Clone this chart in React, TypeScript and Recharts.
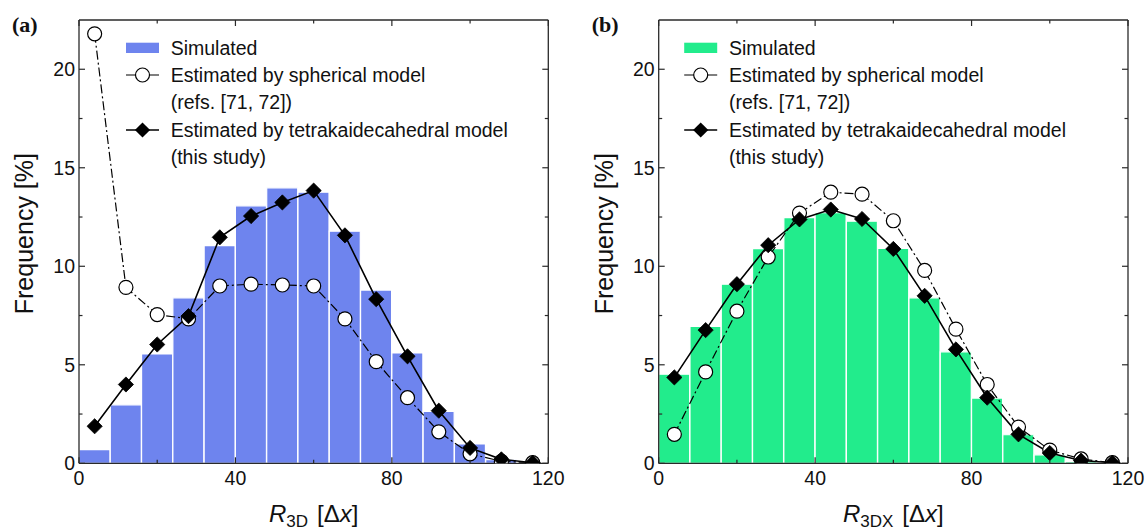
import React from 'react';
import { ComposedChart, Bar, Line, XAxis, YAxis } from 'recharts';

// ---------- data ----------
const binIds = ['0-8', '8-16', '16-24', '24-32', '32-40', '40-48', '48-56', '56-64', '64-72', '72-80', '80-88', '88-96', '96-104', '104-112', '112-120'];
const binCenters = [4, 12, 20, 28, 36, 44, 52, 60, 68, 76, 84, 92, 100, 108, 116];

const simulatedA = [0.69, 2.97, 5.55, 8.4, 11.05, 13.07, 13.98, 13.76, 11.78, 8.79, 5.6, 2.64, 0.98, 0.18, 0.05];
const sphericalA = [21.8, 8.93, 7.55, 7.33, 9.0, 9.09, 9.05, 9.0, 7.33, 5.16, 3.33, 1.6, 0.48, 0.1, 0.03];
const tetraA = [1.88, 4.0, 6.03, 7.47, 11.47, 12.55, 13.24, 13.84, 11.57, 8.33, 5.43, 2.67, 0.78, 0.2, 0.03];

const simulatedB = [4.52, 6.95, 9.09, 10.9, 12.47, 12.72, 12.29, 10.91, 8.4, 5.66, 3.31, 1.45, 0.43, 0.09, 0.02];
const sphericalB = [1.47, 4.64, 7.72, 10.47, 12.7, 13.76, 13.66, 12.31, 9.79, 6.81, 4.0, 1.84, 0.67, 0.22, 0.03];
const tetraB = [4.36, 6.76, 9.09, 11.07, 12.38, 12.88, 12.4, 10.88, 8.5, 5.78, 3.33, 1.47, 0.52, 0.14, 0.03];

const xTicks = [0, 20, 40, 60, 80, 100, 120];
const xLabeledTicks = [0, 40, 80, 120];
const yTicks = [0, 2.5, 5, 7.5, 10, 12.5, 15, 17.5, 20];
const yLabeledTicks = [0, 5, 10, 15, 20];

const legendLabels = ['Simulated', 'Estimated by spherical model', '(refs. [71, 72])', 'Estimated by tetrakaidecahedral model', '(this study)'];

// ---------- styles ----------
const SANS = '"Liberation Sans", Arial, Helvetica, sans-serif';
const SERIF = '"Liberation Serif", "Times New Roman", serif';
const FRAME = '#2a2a2a';
const TEXT = '#111';

const buildRows = (sim: number[], sph: number[], tet: number[]) =>
  binIds.map((bin, i) => ({ bin, x: binCenters[i], sim: sim[i], sph: sph[i], tet: tet[i] }));

const diamondDot = (props: any) => {
  const { cx, cy, index } = props;
  if (cx == null || cy == null) return <g key={`d-${index}`} />;
  const s = 7.6;
  return (
    <polygon
      key={`d-${index}`}
      points={`${cx},${cy - s} ${cx + s},${cy} ${cx},${cy + s} ${cx - s},${cy}`}
      fill="#000"
      stroke="#000"
      strokeWidth={0.8}
    />
  );
};

const circleDot = (props: any) => {
  const { cx, cy, index } = props;
  if (cx == null || cy == null) return <g key={`c-${index}`} />;
  return <circle key={`c-${index}`} cx={cx} cy={cy} r={7} fill="#fff" stroke="#000" strokeWidth={1.2} />;
};

const renderXTick = (props: any, side: 'bottom' | 'top') => {
  const { x, y, payload } = props;
  const v = payload.value;
  const major = xLabeledTicks.includes(v);
  const len = major ? 6 : 3.5;
  const dir = side === 'bottom' ? -1 : 1;
  return (
    <g>
      <line x1={x} y1={y} x2={x} y2={y + dir * len} stroke={FRAME} strokeWidth={1.2} />
      {side === 'bottom' && major && (
        <text x={x} y={y + 22} textAnchor="middle" fontSize={19.5} fontFamily={SANS} fill={TEXT}>
          {v}
        </text>
      )}
    </g>
  );
};

const renderYTick = (props: any, side: 'left' | 'right') => {
  const { x, y, payload } = props;
  const v = payload.value;
  const major = yLabeledTicks.includes(v);
  const len = major ? 6 : 3.5;
  const dir = side === 'left' ? 1 : -1;
  return (
    <g>
      <line x1={x} y1={y} x2={x + dir * len} y2={y} stroke={FRAME} strokeWidth={1.2} />
      {side === 'left' && major && (
        <text x={x - 4} y={y + 7} textAnchor="end" fontSize={19.5} fontFamily={SANS} fill={TEXT}>
          {v}
        </text>
      )}
    </g>
  );
};

type PanelProps = {
  left: number;
  width: number;
  plotLeft: number; // absolute page px
  plotRight: number; // absolute page px
  rows: any[];
  color: string;
  letter: string;
  sub: string;
  legendDx: number;
};

const PLOT_TOP = 20;
const PLOT_BOTTOM = 463.3;
const H = 532;

function Panel({ left, width, plotLeft, plotRight, rows, color, letter, sub, legendDx }: PanelProps) {
  const yAxisW = plotLeft - left;
  const marginRight = width - (plotRight - left) - 1;

  const yLabel = (p: any) => {
    const vb = p.viewBox || {};
    const ax = (vb.x || 0) + (vb.width || 0); // plot left in chart coords
    const cy = PLOT_TOP + (PLOT_BOTTOM - PLOT_TOP) / 2 - 8;
    const bx = ax - 45.7;
    return (
      <g>
        <text
          x={bx}
          y={cy}
          transform={`rotate(-90, ${bx}, ${cy})`}
          textAnchor="middle"
          fontSize={25}
          fontFamily={SANS}
          fill={TEXT}
        >
          Frequency [%]
        </text>
        <text x={ax - 67} y={32} fontSize={22} fontWeight="bold" fontFamily={SERIF} fill={TEXT}>
          {letter}
        </text>
      </g>
    );
  };

  const xLabel = (p: any) => {
    const vb = p.viewBox || {};
    const cx = (vb.x || 0) + (vb.width || 0) / 2;
    return (
      <text x={cx} y={522} textAnchor="middle" fontSize={24} fontFamily={SANS} fill={TEXT}>
        <tspan fontStyle="italic">R</tspan>
        <tspan fontSize={17} dy={5}>{sub}</tspan>
        <tspan dy={-5} dx={9}>[Δ</tspan>
        <tspan fontStyle="italic">x</tspan>
        <tspan>]</tspan>
      </text>
    );
  };

  const legend = (p: any) => {
    const vb = p.viewBox || {};
    const ox = (vb.x || 0) + legendDx;
    const oy = PLOT_TOP;
    const swL = ox;
    const swR = ox + 33;
    const mid = ox + 16.5;
    const tx = ox + 44.7;
    const lr = [27.7, 55, 81.7, 110, 136.7];
    return (
      <g fontFamily={SANS} fontSize={19.5} fill={TEXT}>
        <rect x={swL} y={oy + 22.7} width={33} height={10.3} fill={color} />
        <line x1={swL} y1={oy + lr[1]} x2={swR} y2={oy + lr[1]} stroke="#000" strokeWidth={1.2} />
        <circle cx={mid} cy={oy + lr[1]} r={7} fill="#fff" stroke="#000" strokeWidth={1.2} />
        <line x1={swL} y1={oy + lr[3]} x2={swR} y2={oy + lr[3]} stroke="#000" strokeWidth={1.5} />
        <polygon
          points={`${mid},${oy + lr[3] - 7.6} ${mid + 7.6},${oy + lr[3]} ${mid},${oy + lr[3] + 7.6} ${mid - 7.6},${oy + lr[3]}`}
          fill="#000"
        />
        {legendLabels.map((t, i) => (
          <text key={t} x={tx} y={oy + lr[i] + 7} fill={TEXT}>
            {t}
          </text>
        ))}
      </g>
    );
  };

  return (
    <div style={{ position: 'absolute', left, top: 0, width, height: H }}>
      <ComposedChart
        width={width}
        height={H}
        data={rows}
        margin={{ top: PLOT_TOP - 1, right: marginRight, bottom: 0, left: 0 }}
        barCategoryGap={0}
        barGap={0}
      >
        <XAxis xAxisId="cat" dataKey="bin" type="category" hide height={0} />
        <XAxis
          xAxisId="num"
          dataKey="x"
          type="number"
          domain={[0, 120]}
          allowDataOverflow
          ticks={xTicks}
          interval={0}
          tickSize={0}
          tickMargin={0}
          tickLine={false}
          height={H - PLOT_BOTTOM}
          axisLine={{ stroke: FRAME, strokeWidth: 1.3 }}
          tick={(p: any) => renderXTick(p, 'bottom')}
          label={{ content: xLabel }}
        />
        <XAxis
          xAxisId="top"
          orientation="top"
          dataKey="x"
          type="number"
          domain={[0, 120]}
          allowDataOverflow
          ticks={xTicks}
          interval={0}
          tickSize={0}
          tickMargin={0}
          tickLine={false}
          height={1}
          axisLine={{ stroke: FRAME, strokeWidth: 1.3 }}
          tick={(p: any) => renderXTick(p, 'top')}
          label={{ content: legend }}
        />
        <YAxis
          yAxisId="left"
          type="number"
          domain={[0, 22.5]}
          allowDataOverflow
          ticks={yTicks}
          interval={0}
          tickSize={0}
          tickMargin={0}
          tickLine={false}
          width={yAxisW}
          axisLine={{ stroke: FRAME, strokeWidth: 1.3 }}
          tick={(p: any) => renderYTick(p, 'left')}
          label={{ content: yLabel }}
        />
        <YAxis
          yAxisId="right"
          orientation="right"
          type="number"
          domain={[0, 22.5]}
          allowDataOverflow
          ticks={yTicks}
          interval={0}
          tickSize={0}
          tickMargin={0}
          tickLine={false}
          width={1}
          axisLine={{ stroke: FRAME, strokeWidth: 1.3 }}
          tick={(p: any) => renderYTick(p, 'right')}
        />
        <Bar
          xAxisId="cat"
          yAxisId="left"
          dataKey="sim"
          fill={color}
          stroke="#ffffff"
          strokeWidth={1.2}
          isAnimationActive={false}
        />
        <Line
          xAxisId="num"
          yAxisId="left"
          type="linear"
          dataKey="sph"
          stroke="#000"
          strokeWidth={1.2}
          strokeDasharray="9 3 2 3"
          dot={circleDot}
          activeDot={false}
          isAnimationActive={false}
        />
        <Line
          xAxisId="num"
          yAxisId="left"
          type="linear"
          dataKey="tet"
          stroke="#000"
          strokeWidth={1.6}
          dot={diamondDot}
          activeDot={false}
          isAnimationActive={false}
        />
      </ComposedChart>
    </div>
  );
}

export default function App() {
  const rowsA = buildRows(simulatedA, sphericalA, tetraA);
  const rowsB = buildRows(simulatedB, sphericalB, tetraB);
  return (
    <div style={{ position: 'fixed', left: 0, top: 0, width: 1148, height: H, background: '#fff', overflow: 'hidden' }}>
      <Panel left={0} width={575} plotLeft={79} plotRight={548.3} rows={rowsA} color="#6E84EE" letter="(a)" sub="3D" legendDx={47} />
      <Panel left={575} width={573} plotLeft={658.7} plotRight={1128} rows={rowsB} color="#22EC8C" letter="(b)" sub="3DX" legendDx={25.5} />
    </div>
  );
}
